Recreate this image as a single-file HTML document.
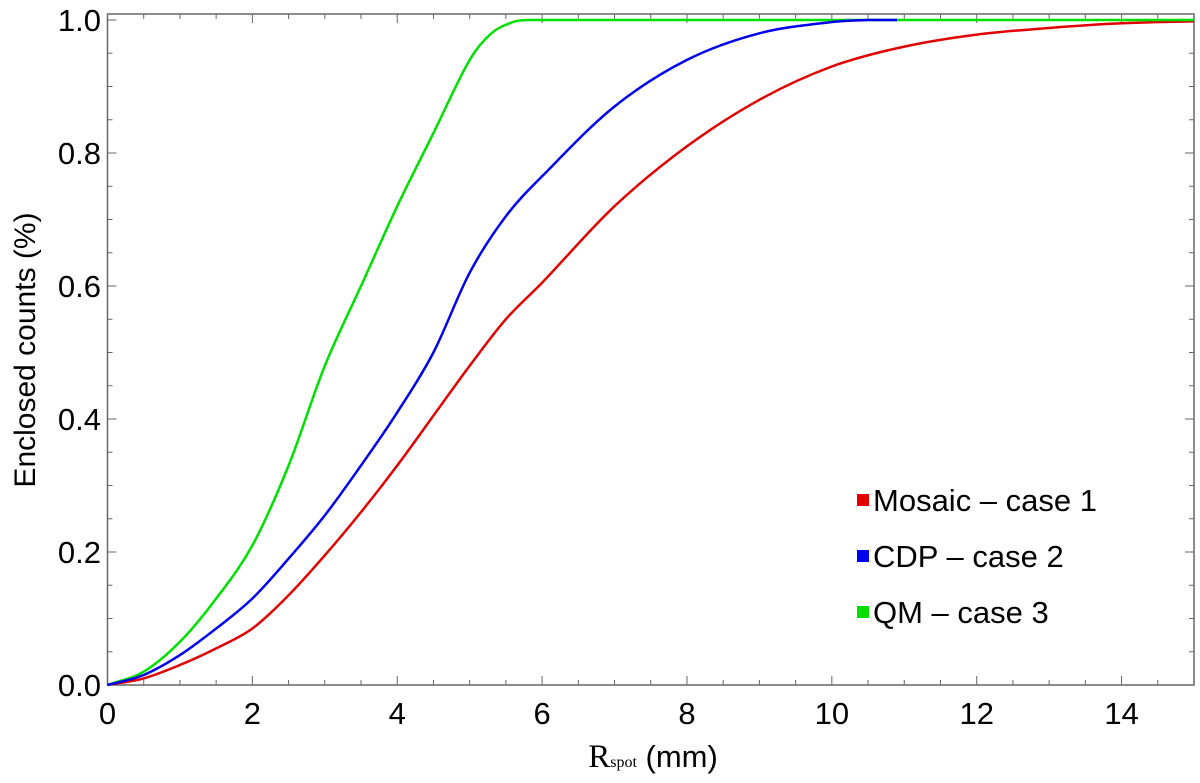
<!DOCTYPE html>
<html><head><meta charset="utf-8"><style>
body{margin:0;background:#fff}
svg text{font-family:"Liberation Sans",sans-serif;fill:#000}
</style></head><body>
<svg id="c" width="1200" height="778"></svg>
<script>
const xTicks=[0,2,4,6,8,10,12,14];
const yTicks=[0.0,0.2,0.4,0.6,0.8,1.0];
const redX=[0,0.5,1,1.5,2,2.5,3,3.5,4,4.5,5,5.5,6,7,8,9,10,11,12,13,14,15];
const redY=[0,0.01,0.03,0.055,0.085,0.135,0.195,0.26,0.33,0.405,0.48,0.55,0.605,0.72,0.81,0.88,0.93,0.96,0.978,0.988,0.995,0.998];
const blueX=[0,0.5,1,1.5,2,2.5,3,3.5,4,4.5,5,5.5,6,7,8,9,10,10.5,10.9];
const blueY=[0,0.015,0.045,0.085,0.13,0.19,0.255,0.33,0.41,0.5,0.62,0.705,0.765,0.87,0.94,0.98,0.997,1.0,1.0];
const greenX=[0,0.5,1,1.5,2,2.5,3,3.5,4,4.5,5,5.3,5.6,5.8,6,15];
const greenY=[0,0.02,0.065,0.13,0.21,0.33,0.48,0.6,0.72,0.83,0.94,0.98,0.997,1.0,1.0,1.0];
const seriesNames=["Mosaic \u2013 case 1","CDP \u2013 case 2","QM \u2013 case 3"];
const colors=["#e00000","#0000ee","#00e000"];

const X0=107.5,X1=1194,Y0=685,Y1=20;
const sx=v=>X0+(X1-X0)*v/15, sy=v=>Y0-(Y0-Y1)*v;
const svg=document.getElementById('c');const NS="http://www.w3.org/2000/svg";
function mk(t,a,p){const e=document.createElementNS(NS,t);for(const k in a)e.setAttribute(k,a[k]);(p||svg).appendChild(e);return e;}
const fr=mk('rect',{x:X0,y:14,width:X1-X0,height:Y0-14,fill:'none',stroke:'#666','stroke-width':1.5});


for(let v=0;v<=15.001;v+=0.5){const big=Math.abs(v%2)<1e-6;
 mk('line',{x1:sx(v),x2:sx(v),y1:Y0,y2:Y0-(big?9:5),stroke:'#666'});
 mk('line',{x1:sx(v),x2:sx(v),y1:14,y2:14+(big?9:5),stroke:'#666'});}
for(let v=0;v<=1.001;v+=0.05){const big=Math.abs((v*5)-Math.round(v*5))<1e-6;
 mk('line',{x1:X0,x2:X0+(big?9:5),y1:sy(v),y2:sy(v),stroke:'#666'});
 mk('line',{x1:X1,x2:X1-(big?9:5),y1:sy(v),y2:sy(v),stroke:'#666'});}
xTicks.forEach(v=>{const t=mk('text',{x:sx(v),y:724,'font-size':31,'text-anchor':'middle'});t.textContent=v;
 
 });
yTicks.forEach(v=>{const t=mk('text',{x:101,y:sy(v)+11,'font-size':31,'text-anchor':'end'});t.textContent=v.toFixed(1);
 
 });
const yt=mk('text',{x:0,y:0,'font-size':30,'text-anchor':'middle',transform:'translate(35,350) rotate(-90)'});yt.textContent='Enclosed counts (%)';


const xt=mk('text',{x:653,y:767,'font-size':31,'text-anchor':'middle'});
xt.innerHTML='<tspan style="font-family:\'Liberation Serif\',serif" font-size="33">R</tspan><tspan font-size="16" style="font-family:\'Liberation Serif\',serif">spot</tspan> (mm)';


const cl=(v,a,b)=>Math.min(Math.max(a,b),Math.max(Math.min(a,b),v));
function line(xs,ys,col,name){
 const P=xs.map((x,i)=>[sx(x),sy(ys[i])]);
 let d='M'+P[0][0].toFixed(1)+','+P[0][1].toFixed(1);
 for(let i=0;i<P.length-1;i++){const p0=P[Math.max(0,i-1)],p1=P[i],p2=P[i+1],p3=P[Math.min(P.length-1,i+2)];
  const h=p2[0]-p1[0];
  const s1=(p2[1]-p0[1])/((p2[0]-p0[0])||1), s2=(p3[1]-p1[1])/((p3[0]-p1[0])||1);
  const c1x=p1[0]+h/3,c2x=p2[0]-h/3;
  const c1y=cl(p1[1]+s1*h/3,p1[1],p2[1]),c2y=cl(p2[1]-s2*h/3,p1[1],p2[1]);
  d+='C'+c1x.toFixed(1)+','+c1y.toFixed(1)+' '+c2x.toFixed(1)+','+c2y.toFixed(1)+' '+p2[0].toFixed(1)+','+p2[1].toFixed(1);}
 const p=mk('path',{d:d,fill:'none',stroke:col,'stroke-width':2.5,'stroke-linejoin':'round'});
 
 }
line(redX,redY,colors[0],'mosaic-line');
line(greenX,greenY,colors[2],'qm-line');
line(blueX,blueY,colors[1],'cdp-line');
seriesNames.forEach((n,i)=>{const y=500+i*56;
 const g=mk('g',{});
 
 
 mk('rect',{x:857,y:y-6,width:12,height:12,fill:colors[i]},g);
 const t=mk('text',{x:873,y:y+11,'font-size':31},g);t.textContent=n;});
</script>
</body></html>
